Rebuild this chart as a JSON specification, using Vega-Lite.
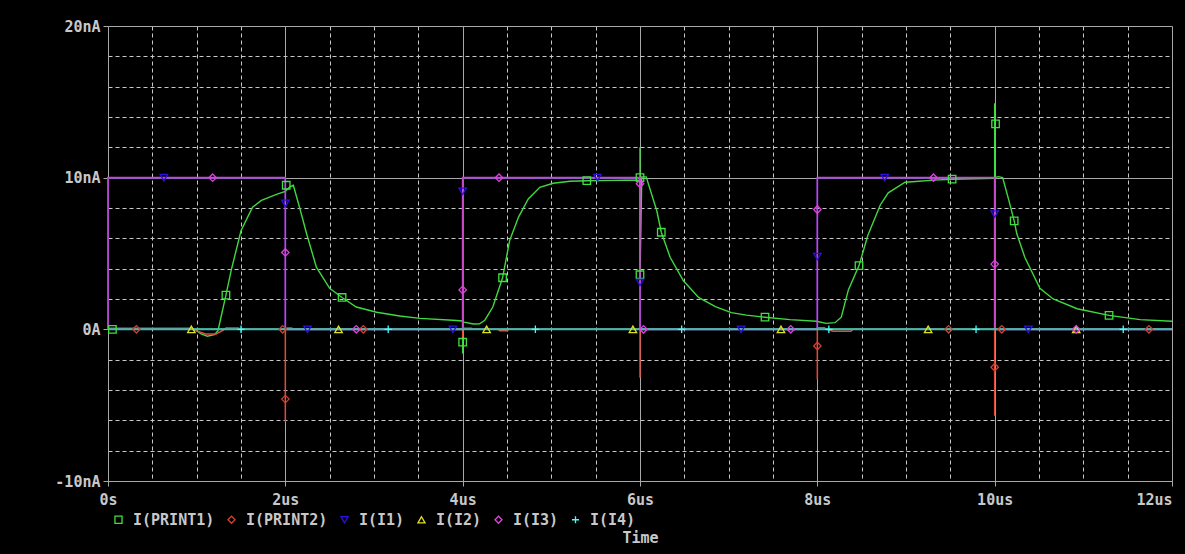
{
  "$schema": "https://vega.github.io/schema/vega-lite/v6.json",
  "width": 1064,
  "height": 455,
  "autosize": {"type": "none"},
  "padding": {"left": 108, "top": 26, "right": 13, "bottom": 73},
  "background": "#000000",
  "config": {
    "view": {"stroke": null},
    "font": "DejaVu Sans Mono"
  },
  "datasets": {
    "lines": [
      {"series": "I(I1)", "i": 0, "t": 0, "v": 0},
      {"series": "I(I1)", "i": 1, "t": 0, "v": 10},
      {"series": "I(I1)", "i": 2, "t": 2, "v": 10},
      {"series": "I(I1)", "i": 3, "t": 2, "v": 0},
      {"series": "I(I1)", "i": 4, "t": 4, "v": 0},
      {"series": "I(I1)", "i": 5, "t": 4, "v": 10},
      {"series": "I(I1)", "i": 6, "t": 6, "v": 10},
      {"series": "I(I1)", "i": 7, "t": 6, "v": 0},
      {"series": "I(I1)", "i": 8, "t": 8, "v": 0},
      {"series": "I(I1)", "i": 9, "t": 8, "v": 10},
      {"series": "I(I1)", "i": 10, "t": 10, "v": 10},
      {"series": "I(I1)", "i": 11, "t": 10, "v": 0},
      {"series": "I(I1)", "i": 12, "t": 12, "v": 0},
      {"series": "I(I3)", "i": 0, "t": 0, "v": 0},
      {"series": "I(I3)", "i": 1, "t": 0, "v": 10},
      {"series": "I(I3)", "i": 2, "t": 2, "v": 10},
      {"series": "I(I3)", "i": 3, "t": 2, "v": 0},
      {"series": "I(I3)", "i": 4, "t": 4, "v": 0},
      {"series": "I(I3)", "i": 5, "t": 4, "v": 10},
      {"series": "I(I3)", "i": 6, "t": 6, "v": 10},
      {"series": "I(I3)", "i": 7, "t": 6, "v": 0},
      {"series": "I(I3)", "i": 8, "t": 8, "v": 0},
      {"series": "I(I3)", "i": 9, "t": 8, "v": 10},
      {"series": "I(I3)", "i": 10, "t": 10, "v": 10},
      {"series": "I(I3)", "i": 11, "t": 10, "v": 0},
      {"series": "I(I3)", "i": 12, "t": 12, "v": 0},
      {"series": "I(I2)", "i": 0, "t": 0, "v": 0},
      {"series": "I(I2)", "i": 1, "t": 12, "v": 0},
      {"series": "I(I4)", "i": 0, "t": 0, "v": 0},
      {"series": "I(I4)", "i": 1, "t": 12, "v": 0},
      {"series": "I(PRINT2)", "i": 0, "t": 0, "v": 0.07},
      {"series": "I(PRINT2)", "i": 1, "t": 0.95, "v": 0.07},
      {"series": "I(PRINT2)", "i": 2, "t": 1.0, "v": -0.1},
      {"series": "I(PRINT2)", "i": 3, "t": 1.1, "v": -0.3},
      {"series": "I(PRINT2)", "i": 4, "t": 1.22, "v": -0.3},
      {"series": "I(PRINT2)", "i": 5, "t": 1.3, "v": -0.05},
      {"series": "I(PRINT2)", "i": 6, "t": 1.33, "v": 0.08},
      {"series": "I(PRINT2)", "i": 7, "t": 1.47, "v": 0.08},
      {"series": "I(PRINT2)", "i": 8, "t": 1.5, "v": 0},
      {"series": "I(PRINT2)", "i": 9, "t": 2, "v": 0},
      {"series": "I(PRINT2)", "i": 10, "t": 2, "v": -6.1},
      {"series": "I(PRINT2)", "i": 11, "t": 2, "v": 0},
      {"series": "I(PRINT2)", "i": 12, "t": 2.02, "v": 0.08},
      {"series": "I(PRINT2)", "i": 13, "t": 2.07, "v": 0.08},
      {"series": "I(PRINT2)", "i": 14, "t": 2.1, "v": 0},
      {"series": "I(PRINT2)", "i": 15, "t": 4, "v": 0},
      {"series": "I(PRINT2)", "i": 16, "t": 4, "v": -0.5},
      {"series": "I(PRINT2)", "i": 17, "t": 4, "v": 0.07},
      {"series": "I(PRINT2)", "i": 18, "t": 4.1, "v": 0.07},
      {"series": "I(PRINT2)", "i": 19, "t": 4.12, "v": 0},
      {"series": "I(PRINT2)", "i": 20, "t": 4.4, "v": 0},
      {"series": "I(PRINT2)", "i": 21, "t": 4.42, "v": -0.1},
      {"series": "I(PRINT2)", "i": 22, "t": 4.5, "v": -0.1},
      {"series": "I(PRINT2)", "i": 23, "t": 4.52, "v": 0},
      {"series": "I(PRINT2)", "i": 24, "t": 6, "v": 0},
      {"series": "I(PRINT2)", "i": 25, "t": 6, "v": -3.2},
      {"series": "I(PRINT2)", "i": 26, "t": 6, "v": 0},
      {"series": "I(PRINT2)", "i": 27, "t": 8, "v": 0},
      {"series": "I(PRINT2)", "i": 28, "t": 8, "v": -3.3},
      {"series": "I(PRINT2)", "i": 29, "t": 8, "v": 0.1},
      {"series": "I(PRINT2)", "i": 30, "t": 8.08, "v": 0.1},
      {"series": "I(PRINT2)", "i": 31, "t": 8.1, "v": 0},
      {"series": "I(PRINT2)", "i": 32, "t": 8.18, "v": -0.12},
      {"series": "I(PRINT2)", "i": 33, "t": 8.38, "v": -0.12},
      {"series": "I(PRINT2)", "i": 34, "t": 8.4, "v": 0},
      {"series": "I(PRINT2)", "i": 35, "t": 10, "v": 0},
      {"series": "I(PRINT2)", "i": 36, "t": 10, "v": -5.7},
      {"series": "I(PRINT2)", "i": 37, "t": 10, "v": 0},
      {"series": "I(PRINT2)", "i": 38, "t": 12, "v": 0},
      {"series": "I(PRINT1)", "i": 0, "t": 0, "v": 0},
      {"series": "I(PRINT1)", "i": 1, "t": 0.95, "v": 0},
      {"series": "I(PRINT1)", "i": 2, "t": 1.0, "v": -0.1},
      {"series": "I(PRINT1)", "i": 3, "t": 1.05, "v": -0.3},
      {"series": "I(PRINT1)", "i": 4, "t": 1.12, "v": -0.45},
      {"series": "I(PRINT1)", "i": 5, "t": 1.2, "v": -0.35},
      {"series": "I(PRINT1)", "i": 6, "t": 1.24, "v": -0.1},
      {"series": "I(PRINT1)", "i": 7, "t": 1.33, "v": 2.25},
      {"series": "I(PRINT1)", "i": 8, "t": 1.39, "v": 3.9},
      {"series": "I(PRINT1)", "i": 9, "t": 1.5, "v": 6.5},
      {"series": "I(PRINT1)", "i": 10, "t": 1.63, "v": 8.05},
      {"series": "I(PRINT1)", "i": 11, "t": 1.73, "v": 8.5},
      {"series": "I(PRINT1)", "i": 12, "t": 1.9, "v": 8.9},
      {"series": "I(PRINT1)", "i": 13, "t": 2.0, "v": 9.1},
      {"series": "I(PRINT1)", "i": 14, "t": 2.05, "v": 9.4},
      {"series": "I(PRINT1)", "i": 15, "t": 2.09, "v": 9.5},
      {"series": "I(PRINT1)", "i": 16, "t": 2.16, "v": 8.05},
      {"series": "I(PRINT1)", "i": 17, "t": 2.24, "v": 6.3},
      {"series": "I(PRINT1)", "i": 18, "t": 2.35, "v": 4.1},
      {"series": "I(PRINT1)", "i": 19, "t": 2.5, "v": 2.7},
      {"series": "I(PRINT1)", "i": 20, "t": 2.64, "v": 2.1},
      {"series": "I(PRINT1)", "i": 21, "t": 2.8, "v": 1.47},
      {"series": "I(PRINT1)", "i": 22, "t": 3.03, "v": 1.13},
      {"series": "I(PRINT1)", "i": 23, "t": 3.29, "v": 0.88},
      {"series": "I(PRINT1)", "i": 24, "t": 3.52, "v": 0.72},
      {"series": "I(PRINT1)", "i": 25, "t": 3.89, "v": 0.6},
      {"series": "I(PRINT1)", "i": 26, "t": 4.0, "v": 0.55},
      {"series": "I(PRINT1)", "i": 27, "t": 4.0, "v": -1.6},
      {"series": "I(PRINT1)", "i": 28, "t": 4.0, "v": 0.5},
      {"series": "I(PRINT1)", "i": 29, "t": 4.12, "v": 0.35},
      {"series": "I(PRINT1)", "i": 30, "t": 4.19, "v": 0.36},
      {"series": "I(PRINT1)", "i": 31, "t": 4.25, "v": 0.6},
      {"series": "I(PRINT1)", "i": 32, "t": 4.34, "v": 1.47},
      {"series": "I(PRINT1)", "i": 33, "t": 4.45, "v": 3.4},
      {"series": "I(PRINT1)", "i": 34, "t": 4.53, "v": 5.86},
      {"series": "I(PRINT1)", "i": 35, "t": 4.63, "v": 7.4},
      {"series": "I(PRINT1)", "i": 36, "t": 4.74, "v": 8.6},
      {"series": "I(PRINT1)", "i": 37, "t": 4.87, "v": 9.36},
      {"series": "I(PRINT1)", "i": 38, "t": 5.02, "v": 9.63},
      {"series": "I(PRINT1)", "i": 39, "t": 5.21, "v": 9.76},
      {"series": "I(PRINT1)", "i": 40, "t": 5.4, "v": 9.8},
      {"series": "I(PRINT1)", "i": 41, "t": 5.7, "v": 9.82},
      {"series": "I(PRINT1)", "i": 42, "t": 6.0, "v": 9.85},
      {"series": "I(PRINT1)", "i": 43, "t": 6.0, "v": 12},
      {"series": "I(PRINT1)", "i": 44, "t": 6.0, "v": 3.4},
      {"series": "I(PRINT1)", "i": 45, "t": 6.02, "v": 10.05},
      {"series": "I(PRINT1)", "i": 46, "t": 6.07, "v": 10.05},
      {"series": "I(PRINT1)", "i": 47, "t": 6.19, "v": 7.8},
      {"series": "I(PRINT1)", "i": 48, "t": 6.24, "v": 6.4},
      {"series": "I(PRINT1)", "i": 49, "t": 6.34, "v": 4.75},
      {"series": "I(PRINT1)", "i": 50, "t": 6.49, "v": 3.2},
      {"series": "I(PRINT1)", "i": 51, "t": 6.66, "v": 2.1},
      {"series": "I(PRINT1)", "i": 52, "t": 6.85, "v": 1.5},
      {"series": "I(PRINT1)", "i": 53, "t": 7.03, "v": 1.1},
      {"series": "I(PRINT1)", "i": 54, "t": 7.2, "v": 0.94},
      {"series": "I(PRINT1)", "i": 55, "t": 7.41, "v": 0.8},
      {"series": "I(PRINT1)", "i": 56, "t": 7.69, "v": 0.64},
      {"series": "I(PRINT1)", "i": 57, "t": 7.99, "v": 0.53},
      {"series": "I(PRINT1)", "i": 58, "t": 8.1, "v": 0.39},
      {"series": "I(PRINT1)", "i": 59, "t": 8.2, "v": 0.44},
      {"series": "I(PRINT1)", "i": 60, "t": 8.27, "v": 0.8},
      {"series": "I(PRINT1)", "i": 61, "t": 8.35, "v": 2.6},
      {"series": "I(PRINT1)", "i": 62, "t": 8.47, "v": 4.2},
      {"series": "I(PRINT1)", "i": 63, "t": 8.57, "v": 6.2},
      {"series": "I(PRINT1)", "i": 64, "t": 8.71, "v": 8.2},
      {"series": "I(PRINT1)", "i": 65, "t": 8.8, "v": 9.0},
      {"series": "I(PRINT1)", "i": 66, "t": 8.99, "v": 9.7},
      {"series": "I(PRINT1)", "i": 67, "t": 9.11, "v": 9.75},
      {"series": "I(PRINT1)", "i": 68, "t": 9.31, "v": 9.84},
      {"series": "I(PRINT1)", "i": 69, "t": 9.52, "v": 9.9},
      {"series": "I(PRINT1)", "i": 70, "t": 10.0, "v": 9.95},
      {"series": "I(PRINT1)", "i": 71, "t": 10.0, "v": 14.9},
      {"series": "I(PRINT1)", "i": 72, "t": 10.0, "v": 10},
      {"series": "I(PRINT1)", "i": 73, "t": 10.04, "v": 10.07},
      {"series": "I(PRINT1)", "i": 74, "t": 10.09, "v": 10.0},
      {"series": "I(PRINT1)", "i": 75, "t": 10.16, "v": 8.5},
      {"series": "I(PRINT1)", "i": 76, "t": 10.22, "v": 7.15},
      {"series": "I(PRINT1)", "i": 77, "t": 10.25, "v": 6.3},
      {"series": "I(PRINT1)", "i": 78, "t": 10.34, "v": 4.75},
      {"series": "I(PRINT1)", "i": 79, "t": 10.51, "v": 2.7},
      {"series": "I(PRINT1)", "i": 80, "t": 10.66, "v": 2.0},
      {"series": "I(PRINT1)", "i": 81, "t": 10.93, "v": 1.36},
      {"series": "I(PRINT1)", "i": 82, "t": 11.29, "v": 0.92},
      {"series": "I(PRINT1)", "i": 83, "t": 11.64, "v": 0.64},
      {"series": "I(PRINT1)", "i": 84, "t": 12.0, "v": 0.53}
    ],
    "marks": [
      {"series": "I(PRINT1)", "t": 0.05, "v": 0},
      {"series": "I(PRINT1)", "t": 1.33, "v": 2.25},
      {"series": "I(PRINT1)", "t": 2.01, "v": 9.5},
      {"series": "I(PRINT1)", "t": 2.64, "v": 2.1},
      {"series": "I(PRINT1)", "t": 4.0, "v": -0.85},
      {"series": "I(PRINT1)", "t": 4.45, "v": 3.4},
      {"series": "I(PRINT1)", "t": 5.4, "v": 9.8},
      {"series": "I(PRINT1)", "t": 6.0, "v": 10.0},
      {"series": "I(PRINT1)", "t": 6.0, "v": 3.6},
      {"series": "I(PRINT1)", "t": 6.24, "v": 6.4},
      {"series": "I(PRINT1)", "t": 7.41, "v": 0.8},
      {"series": "I(PRINT1)", "t": 8.47, "v": 4.2},
      {"series": "I(PRINT1)", "t": 9.52, "v": 9.9},
      {"series": "I(PRINT1)", "t": 10.01, "v": 13.55},
      {"series": "I(PRINT1)", "t": 10.22, "v": 7.15},
      {"series": "I(PRINT1)", "t": 11.29, "v": 0.92},
      {"series": "I(PRINT2)", "t": 0.32, "v": 0},
      {"series": "I(PRINT2)", "t": 1.97, "v": 0},
      {"series": "I(PRINT2)", "t": 2.0, "v": -4.6},
      {"series": "I(PRINT2)", "t": 2.88, "v": 0},
      {"series": "I(PRINT2)", "t": 8.0, "v": -1.1},
      {"series": "I(PRINT2)", "t": 9.48, "v": 0},
      {"series": "I(PRINT2)", "t": 10.0, "v": -2.5},
      {"series": "I(PRINT2)", "t": 10.08, "v": 0},
      {"series": "I(PRINT2)", "t": 11.74, "v": 0},
      {"series": "I(I1)", "t": 0.63, "v": 10},
      {"series": "I(I1)", "t": 2.0, "v": 8.3},
      {"series": "I(I1)", "t": 2.25, "v": 0},
      {"series": "I(I1)", "t": 3.89, "v": 0},
      {"series": "I(I1)", "t": 4.0, "v": 9.1},
      {"series": "I(I1)", "t": 5.52, "v": 10},
      {"series": "I(I1)", "t": 6.0, "v": 3.1},
      {"series": "I(I1)", "t": 7.14, "v": 0},
      {"series": "I(I1)", "t": 8.0, "v": 4.8},
      {"series": "I(I1)", "t": 8.76, "v": 10},
      {"series": "I(I1)", "t": 10.0, "v": 7.6},
      {"series": "I(I1)", "t": 10.38, "v": 0},
      {"series": "I(I2)", "t": 0.94, "v": 0},
      {"series": "I(I2)", "t": 2.6, "v": 0},
      {"series": "I(I2)", "t": 4.27, "v": 0},
      {"series": "I(I2)", "t": 5.92, "v": 0},
      {"series": "I(I2)", "t": 7.59, "v": 0},
      {"series": "I(I2)", "t": 9.25, "v": 0},
      {"series": "I(I2)", "t": 10.92, "v": 0},
      {"series": "I(I3)", "t": 1.18, "v": 10},
      {"series": "I(I3)", "t": 2.0, "v": 5.07},
      {"series": "I(I3)", "t": 2.8, "v": 0},
      {"series": "I(I3)", "t": 4.0, "v": 2.6},
      {"series": "I(I3)", "t": 4.41, "v": 10},
      {"series": "I(I3)", "t": 6.0, "v": 9.6},
      {"series": "I(I3)", "t": 6.04, "v": 0},
      {"series": "I(I3)", "t": 7.7, "v": 0},
      {"series": "I(I3)", "t": 8.0, "v": 7.9},
      {"series": "I(I3)", "t": 9.31, "v": 10},
      {"series": "I(I3)", "t": 10.0, "v": 4.3},
      {"series": "I(I3)", "t": 10.92, "v": 0},
      {"series": "I(I4)", "t": 1.5, "v": 0},
      {"series": "I(I4)", "t": 3.16, "v": 0},
      {"series": "I(I4)", "t": 4.82, "v": 0},
      {"series": "I(I4)", "t": 6.47, "v": 0},
      {"series": "I(I4)", "t": 8.13, "v": 0},
      {"series": "I(I4)", "t": 9.79, "v": 0},
      {"series": "I(I4)", "t": 11.45, "v": 0}
    ]
  },
  "encoding": {
    "x": {
      "field": "t",
      "type": "quantitative",
      "scale": {"domain": [0, 12], "nice": false, "zero": false},
      "axis": {
        "values": [0, 0.5, 1, 1.5, 2, 2.5, 3, 3.5, 4, 4.5, 5, 5.5, 6, 6.5, 7, 7.5, 8, 8.5, 9, 9.5, 10, 10.5, 11, 11.5, 12],
        "title": "Time",
        "titleColor": "#c8c8c8",
        "titleFont": "DejaVu Sans Mono",
        "titleFontSize": 15,
        "titleFontWeight": "bold",
        "titlePadding": 23,
        "labelExpr": "datum.value % 2 === 0 ? (datum.value === 0 ? '0s' : datum.value + 'us') : ''",
        "labelColor": "#c8c8c8",
        "labelFont": "DejaVu Sans Mono",
        "labelFontSize": 15,
        "labelFontWeight": "bold",
        "labelAlign": {"condition": {"test": "datum.value === 12", "value": "right"}, "value": "center"},
        "labelPadding": 6,
        "labelOverlap": false,
        "labelBound": false,
        "labelFlush": false,
        "grid": true,
        "gridColor": {"condition": {"test": "datum.value % 2 === 0", "value": "#a8a8a8"}, "value": "#c8c8c8"},
        "gridDash": {"condition": {"test": "datum.value % 2 === 0", "value": []}, "value": [4, 3]},
        "gridWidth": 1,
        "domainColor": "#a8a8a8",
        "tickColor": "#a8a8a8",
        "tickOpacity": {"condition": {"test": "datum.value % 2 === 0", "value": 1}, "value": 0},
        "tickSize": 5
      }
    },
    "y": {
      "field": "v",
      "type": "quantitative",
      "scale": {"domain": [-10, 20], "nice": false, "zero": false},
      "axis": {
        "values": [-10, -8, -6, -4, -2, 0, 2, 4, 6, 8, 10, 12, 14, 16, 18, 20],
        "title": null,
        "labelExpr": "datum.value % 10 === 0 ? (datum.value === 0 ? '0A' : datum.value + 'nA') : ''",
        "labelColor": "#c8c8c8",
        "labelFont": "DejaVu Sans Mono",
        "labelFontSize": 15,
        "labelFontWeight": "bold",
        "labelPadding": 3,
        "labelOverlap": false,
        "labelBound": false,
        "labelFlush": false,
        "grid": true,
        "gridColor": {"condition": {"test": "datum.value % 10 === 0", "value": "#a8a8a8"}, "value": "#c8c8c8"},
        "gridDash": {"condition": {"test": "datum.value % 10 === 0", "value": []}, "value": [4, 3]},
        "gridWidth": 1,
        "domainColor": "#a8a8a8",
        "tickColor": "#a8a8a8",
        "tickOpacity": {"condition": {"test": "datum.value % 10 === 0", "value": 1}, "value": 0},
        "tickSize": 5
      }
    }
  },
  "layer": [
    {
      "data": {"name": "lines"},
      "transform": [{"filter": "datum.series === 'I(I1)'"}],
      "mark": {"type": "line", "stroke": "#3020e0", "strokeWidth": 1.5},
      "encoding": {"order": {"field": "i", "type": "quantitative"}}
    },
    {
      "data": {"name": "lines"},
      "transform": [{"filter": "datum.series === 'I(PRINT1)'"}],
      "mark": {"type": "line", "stroke": "#40d840", "strokeWidth": 1.4},
      "encoding": {"order": {"field": "i", "type": "quantitative"}}
    },
    {
      "data": {"name": "lines"},
      "transform": [{"filter": "datum.series === 'I(I3)'"}],
      "mark": {"type": "line", "stroke": "#c848c8", "strokeWidth": 1.6},
      "encoding": {"order": {"field": "i", "type": "quantitative"}}
    },
    {
      "data": {"name": "lines"},
      "transform": [{"filter": "datum.series === 'I(I2)'"}],
      "mark": {"type": "line", "stroke": "#d0d000", "strokeWidth": 1.5},
      "encoding": {"order": {"field": "i", "type": "quantitative"}}
    },
    {
      "data": {"name": "lines"},
      "transform": [{"filter": "datum.series === 'I(PRINT2)'"}],
      "mark": {"type": "line", "stroke": "#e84a3a", "strokeWidth": 1.5},
      "encoding": {"order": {"field": "i", "type": "quantitative"}}
    },
    {
      "data": {"name": "lines"},
      "transform": [{"filter": "datum.series === 'I(I4)'"}],
      "mark": {"type": "line", "stroke": "#30c0c4", "strokeWidth": 2},
      "encoding": {"order": {"field": "i", "type": "quantitative"}}
    },
    {
      "data": {"name": "marks"},
      "mark": {"type": "point", "filled": false, "size": 56, "strokeWidth": 1.3, "opacity": 1},
      "encoding": {
        "color": {
          "field": "series",
          "type": "nominal",
          "scale": {
            "domain": ["I(PRINT1)", "I(PRINT2)", "I(I1)", "I(I2)", "I(I3)", "I(I4)"],
            "range": ["#40e040", "#d04030", "#3010e0", "#e0e020", "#e040e0", "#40ffff"]
          },
          "legend": {
            "orient": "none",
            "legendX": 3,
            "legendY": 486,
            "direction": "horizontal",
            "title": null,
            "labelColor": "#c8c8c8",
            "labelFont": "DejaVu Sans Mono",
            "labelFontSize": 15,
            "labelFontWeight": "bold",
            "symbolSize": 50,
            "symbolStrokeWidth": 1.3,
            "labelOffset": 7,
            "columnPadding": 9,
            "padding": 0
          }
        },
        "shape": {
          "field": "series",
          "type": "nominal",
          "scale": {
            "domain": ["I(PRINT1)", "I(PRINT2)", "I(I1)", "I(I2)", "I(I3)", "I(I4)"],
            "range": ["square", "diamond", "triangle-down", "triangle-up", "diamond", "M-1,0H1M0,-1V1"]
          },
          "legend": {
            "orient": "none",
            "legendX": 3,
            "legendY": 486,
            "direction": "horizontal",
            "title": null,
            "labelColor": "#c8c8c8",
            "labelFont": "DejaVu Sans Mono",
            "labelFontSize": 15,
            "labelFontWeight": "bold",
            "symbolSize": 50,
            "symbolStrokeWidth": 1.3,
            "labelOffset": 7,
            "columnPadding": 9,
            "padding": 0
          }
        }
      }
    }
  ]
}
